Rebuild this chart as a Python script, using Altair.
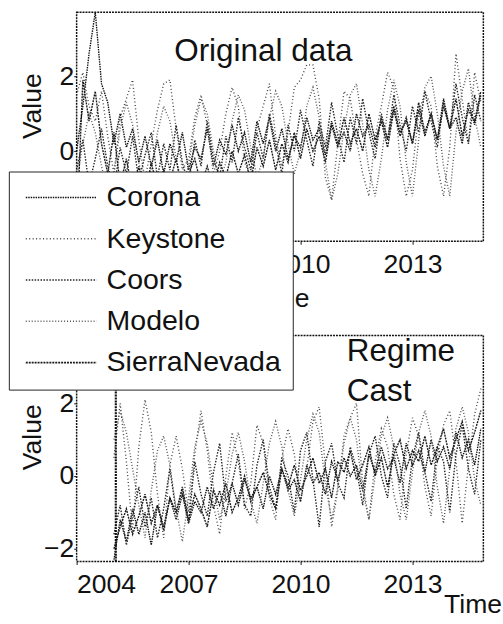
import altair as alt
import pandas as pd

series_names = ["Corona", "Keystone", "Coors", "Modelo", "SierraNevada"]

# sampling grid (every two months)
orig_time = [round(2004 + k / 6, 4) for k in range(66)]
cast_time = [round(2005 + k / 6, 4) for k in range(60)]

orig_corona = [0.0, 1.2, 2.6, 3.7, 1.8, 1.3, 0.2, 1.0, 0.1, 0.6, -0.3, 0.4, -0.4, 0.3, -0.6, 0.2,
               -0.3, 0.5, -0.5, 0.1, -0.2, 0.6, -0.4, 0.3, -0.1, 0.7, 0.0, 0.5, -0.3, 0.8, 0.2, 0.9,
               0.0, 0.6, -0.2, 0.4, 0.1, 0.9, 0.3, 0.6, -0.1, 0.8, 0.2, 0.5, 0.0, 1.0, 0.4, 0.7,
               0.1, 0.9, 0.3, 1.2, 0.5, 0.8, 0.2, 1.1, 0.4, 1.0, 0.3, 1.4, 0.6, 0.9, 0.2, 1.3,
               0.7, 1.5]
orig_keystone = [1.5, 2.1, 1.2, 0.8, 1.6, 0.4, -0.6, 0.9, 1.4, 1.9, 0.3, -0.8, 0.2, 1.1, 1.8, 1.9,
                 0.6, -0.5, -0.2, 0.9, 1.5, 0.7, -0.6, 0.0, 1.0, 1.7, 1.2, -0.3, -0.7, 0.6, 1.2, 1.8,
                 0.4, -0.4, 0.5, 1.7, 1.9, 2.3, 2.3, 1.4, -0.7, -1.3, 0.2, 1.6, 1.4, 0.3, -0.6, -1.2,
                 0.4, 1.2, 2.1, 1.7, -0.2, -1.2, -0.5, 1.0, 1.6, 1.2, -0.4, -1.2, 0.1, 2.6, 1.4, 0.2,
                 2.1, 1.3]
orig_coors = [-0.5, 0.3, -0.9, -0.2, 0.6, -0.4, -1.0, 0.1, -0.6, 0.4, -0.8, -0.1, 0.5, -0.7, 0.2, -0.5,
              0.7, -0.3, -0.9, 0.3, -0.4, 0.8, -0.2, -0.7, 0.4, -0.3, 0.9, 0.1, -0.5, 0.5, -0.2, 1.0,
              0.2, -0.6, 0.7, 0.0, 1.1, 0.3, -0.4, 0.8, 0.1, 1.3, 0.4, -0.3, 0.9, 0.2, 1.4, 0.5,
              -0.2, 1.0, 0.3, 1.5, 0.7, 0.0, 1.2, 0.5, 1.6, 0.8, 0.1, 1.3, 0.6, 1.8, 0.9, 0.2,
              1.5, 0.8]
orig_modelo = [-0.8, 0.2, 1.0, 0.5, -0.4, -1.1, -0.6, 0.6, 1.3, 0.7, -0.3, -1.0, -0.5, 0.5, 1.2, 0.8,
               -0.2, -0.9, -0.4, 0.7, 1.4, 1.0, 0.0, -0.8, -0.3, 0.8, 1.5, 1.1, 0.1, -0.7, -0.2, 0.9,
               1.6, 1.2, 0.2, -0.6, 0.0, 1.2, 1.7, 0.9, -0.3, -1.3, -0.6, 0.6, 1.5, 1.8, 0.7, -0.5,
               -1.2, -0.2, 1.1, 1.9, 1.2, -0.3, -1.2, 0.3, 1.7, 2.0, 1.0, -0.4, -1.2, 0.5, 1.6, 2.2,
               0.9, 0.1]
orig_sierra = [-2.2, 1.9, 0.8, 1.6, 0.2, -0.6, 0.5, -0.9, -0.2, -1.1, -0.4, -1.2, -0.3, -1.0, -0.5, -0.8,
               -0.2, -1.1, -0.6, -0.2, -0.9, -0.4, -1.0, -0.3, -0.7, 0.0, -0.6, -0.1, -0.8, 0.1, -0.4, 0.3,
               -0.5, 0.2, -0.3, 0.5, -0.2, 0.6, 0.0, 0.4, -0.3, 0.7, 0.1, 0.9, 0.2, 0.6, 0.0, 1.0,
               0.3, 0.8, 0.1, 1.1, 0.4, 0.9, 0.2, 1.3, 0.5, 1.0, 0.3, 1.2, 0.6, 1.4, 0.4, 1.1,
               0.8, 1.6]

cast_corona = [-2.3, -1.2, -1.8, -0.9, -1.6, -1.0, -1.9, -0.8, -1.4, -0.6, -1.2, -0.5, -1.3, -0.7, -1.0,
               -0.3, -0.9, -0.4, -1.1, -0.2, -0.8, -0.1, -0.6, -0.3, -0.9, 0.0, -0.5, 0.2, -0.4, -0.1,
               -0.7, 0.3, -0.2, 0.1, -0.5, 0.4, -0.1, 0.5, 0.0, 0.3, -0.4, 0.6, 0.1, 0.8, 0.2,
               0.5, -0.2, 0.9, 0.3, 0.7, 0.1, 1.0, 0.4, 0.8, 0.2, 1.2, 0.5, 1.0, 0.3, 1.3]
cast_keystone = [0.5, 2.0, 0.4, -1.5, 0.8, 2.1, 1.2, -0.5, -1.7, 0.3, 1.1, 0.2, -1.0, 0.6, 1.8,
                 0.7, -0.8, -1.6, 0.0, 1.2, 0.4, -0.9, -0.2, 1.4, 0.9, -0.6, -1.2, 0.5, 1.3, 0.6,
                 -0.7, 0.2, 1.5, 1.9, 0.3, -1.4, -0.4, 1.1, 1.6, 2.0, -0.2, -1.2, 0.4, 1.3, 0.8,
                 -0.5, -1.2, 0.6, 1.6, 1.1, -0.3, -1.1, 0.5, 1.4, 1.8, 0.4, -1.3, 0.3, 1.7, 2.4]
cast_coors = [-1.6, -0.8, -1.9, -1.1, -0.3, -1.4, -0.6, -1.7, -0.9, 0.2, -1.0, -0.4, -1.3, 0.4, -0.5,
              -1.1, 0.1, 0.9, -0.7, -0.2, 0.6, -0.8, -1.1, 0.3, 1.0, -0.3, -0.9, 0.5, 0.0, -1.0,
              0.7, 1.2, -0.1, -1.4, 0.4, 0.9, -0.2, -0.6, 0.8, 0.2, -0.8, 0.6, 1.1, 0.0, -0.6,
              0.9, 0.3, -0.9, 0.5, 1.2, 0.1, -0.7, 0.8, 0.4, -1.0, 0.6, 1.4, 0.2, -0.5, 1.0]
cast_modelo = [1.0, 1.8, 1.2, 0.2, -0.8, -1.7, -0.4, 0.7, 1.1, 0.3, -0.9, -1.8, -0.6, 0.8, 1.5,
               0.9, -0.3, -1.2, -0.5, 0.6, 1.2, 0.4, -0.7, -1.3, -0.2, 0.9, 1.5, 0.8, -0.4, -1.1,
               -0.1, 1.0, 1.7, 1.2, -0.2, -1.2, -0.3, 0.9, 1.6, 1.0, -0.4, -1.2, 0.0, 1.1, 1.6,
               0.8, -0.5, -1.2, 0.1, 1.2, 1.8, 1.1, -0.3, -1.3, 0.2, 1.3, 1.9, 1.2, -0.1, -0.8]
cast_sierra = [-2.0, -1.4, -0.9, -1.6, -1.1, -0.5, -1.3, -0.8, -1.5, -0.6, -1.0, -0.3, -1.2, -0.5, -0.9,
               -1.4, -0.4, -0.8, -0.2, -1.0, -0.6, 0.0, -0.7, -0.3, 0.1, -0.5, -0.9, 0.2, -0.3, 0.3,
               -0.4, 0.0, 0.5, -0.2, 0.2, -0.6, 0.4, 0.1, 0.7, -0.1, 0.3, 0.8, 0.0, 0.5, -0.3,
               0.6, 1.0, 0.2, 0.7, 0.4, 1.1, 0.3, 0.8, 1.3, 0.5, 1.0, 1.5, 0.7, 1.2, 1.8]

regime_start = [2005.05]
x_ticks = [2004, 2007, 2010, 2013]
y_ticks = [-2, 0, 2]
panel_titles = ["Original data", "Regime\nCast"]

# styles (kept separate from data)
series_colors = ["#111111", "#444444", "#222222", "#555555", "#1a1a1a"]
series_dashes = [[1.5, 1], [1, 2.5], [1.5, 1.5], [1, 2], [2, 1]]
FONT = "Liberation Sans"


def long_frame(times, columns):
    rows = []
    for name, vals in zip(series_names, columns):
        for t, v in zip(times, vals):
            rows.append({"t": t, "value": v, "series": name})
    return pd.DataFrame(rows)


orig_df = long_frame(orig_time, [orig_corona, orig_keystone, orig_coors, orig_modelo, orig_sierra])
cast_df = long_frame(cast_time, [cast_corona, cast_keystone, cast_coors, cast_modelo, cast_sierra])

# long horizontal legend sample drawn with a custom path
legend = alt.Legend(
    orient="none", legendX=-69, legendY=162, title=None,
    symbolType="M-1,0H6.8", symbolSize=342.25, symbolStrokeWidth=1.6,
    labelFontSize=29, labelFont=FONT, labelColor="#111", labelOffset=58.5, labelLimit=400,
    padding=12, rowPadding=12, strokeColor="#222", fillColor="white",
)

color_enc = alt.Color("series:N", scale=alt.Scale(domain=series_names, range=series_colors), legend=legend)
dash_enc = alt.StrokeDash("series:N", scale=alt.Scale(domain=series_names, range=series_dashes), legend=legend)


def panel(df, ydom, height, x_title_x, x_title_y, y_title_y, title_text, title_x, title_y, title_align, with_rule):
    x = alt.X("t:Q", scale=alt.Scale(domain=[2004, 2014.9], nice=False, zero=False),
              axis=alt.Axis(values=x_ticks, format="d", title="Time", titleX=x_title_x, titleY=x_title_y,
                            titleBaseline="middle", titleAlign="center", labelPadding=8))
    y = alt.Y("value:Q", scale=alt.Scale(domain=ydom, nice=False, zero=False),
              axis=alt.Axis(values=y_ticks, format="d", title="Value", titleX=-45, titleY=y_title_y,
                            titleAngle=270, titleBaseline="middle", titleAlign="center", labelPadding=0))
    lines = alt.Chart(df).mark_line(strokeWidth=1.4, clip=True).encode(
        x=x, y=y, color=color_enc, strokeDash=dash_enc, detail="series:N",
        order="t:Q",
    )
    layers = [lines]
    if with_rule:
        rule = alt.Chart(pd.DataFrame({"t": regime_start})).mark_rule(
            color="#111", strokeWidth=2.2, strokeDash=[2, 1]).encode(x=alt.X("t:Q"))
        layers.append(rule)
    ttl = alt.Chart(pd.DataFrame({"label": [title_text]})).mark_text(
        font=FONT, fontSize=32, color="#111", align=title_align, baseline="alphabetic", lineBreak="\n",
        lineHeight=41,
    ).encode(text="label:N", x=alt.value(title_x), y=alt.value(title_y))
    layers.append(ttl)
    return alt.layer(*layers).properties(width=414, height=height)


top = panel(orig_df, [-2.4, 3.7], 233, 207, 58, 95, panel_titles[0], 190, 49, "center", False)
bottom = panel(cast_df, [-2.35, 3.86], 230, 403, 44, 103, panel_titles[1], 275, 26, "left", True)

chart = alt.vconcat(top, bottom, spacing=22).properties(
    padding={"left": 8, "top": 6, "right": 0, "bottom": 0},
    background="white",
).configure_view(
    stroke="#111", strokeWidth=1.5, strokeDash=[2, 1]
).configure_axis(
    grid=False, domain=False, ticks=True, tickSize=3, tickColor="#111",
    labelFont=FONT, labelFontSize=27, labelColor="#111",
    titleFont=FONT, titleFontSize=27, titleColor="#111", titleFontWeight="normal",
)

chart.save("out.html", embed_options={"renderer": "svg", "actions": False})
